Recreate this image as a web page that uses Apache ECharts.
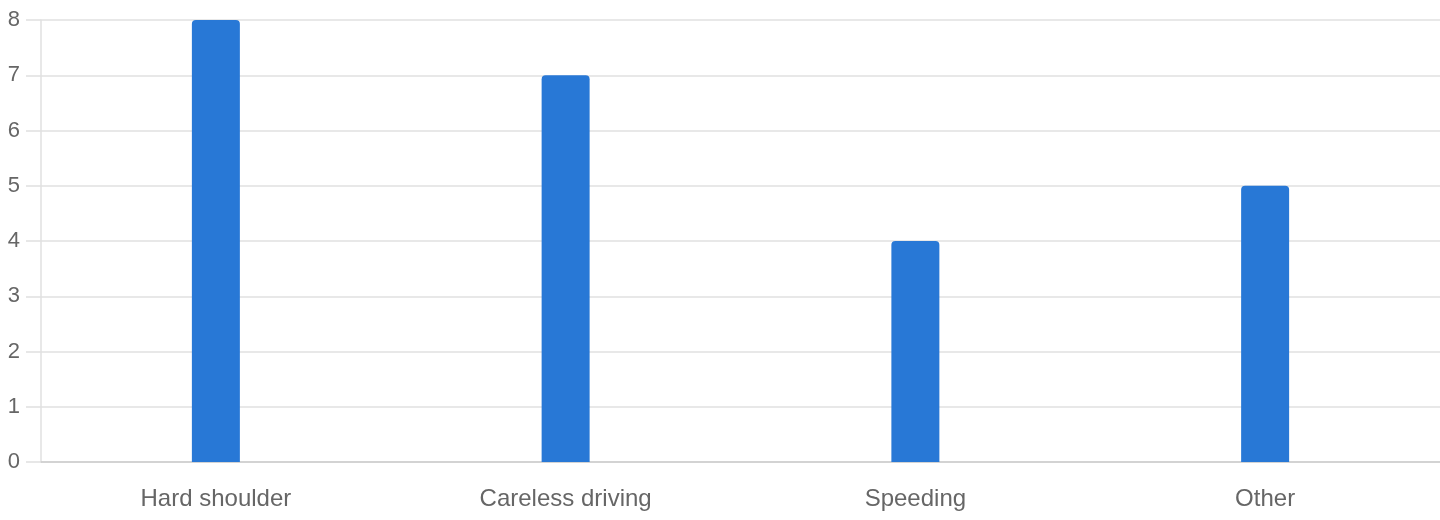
<!DOCTYPE html>
<html>
<head>
<meta charset="utf-8">
<script src="https://cdn.jsdelivr.net/npm/echarts@6/dist/echarts.min.js"></script>
<style>
  html, body { margin: 0; padding: 0; background: #fff; }
  #chart { width: 1440px; height: 520px; }
</style>
</head>
<body>
<div id="chart"></div>
<script>
// categories and values
var categories = ['Hard shoulder', 'Careless driving', 'Speeding', 'Other'];
var counts = [8, 7, 4, 5];

var myChart = echarts.init(document.getElementById('chart'));
myChart.setOption({
  animation: false,
  grid: { left: 41, right: 0, top: 20, bottom: 58 },
  xAxis: {
    type: 'category',
    data: categories,
    axisLine: { lineStyle: { color: '#cccccc', width: 1.5 } },
    axisTick: { show: false },
    axisLabel: { color: '#666', fontSize: 24, fontFamily: 'Helvetica, Arial, sans-serif', margin: 25 }
  },
  yAxis: {
    type: 'value',
    min: 0,
    max: 8,
    interval: 1,
    axisLine: { show: true, lineStyle: { color: '#e0e0e0', width: 1.5 } },
    axisTick: { show: true, inside: false, length: 15, lineStyle: { color: '#e0e0e0', width: 1.5 } },
    axisLabel: { color: '#666', fontSize: 22, fontFamily: 'Helvetica, Arial, sans-serif', margin: 21 },
    splitLine: { lineStyle: { color: '#e0e0e0', width: 1.5 } }
  },
  series: [{
    type: 'bar',
    data: counts,
    barWidth: 48,
    itemStyle: { color: '#2878d6', borderRadius: [4, 4, 0, 0] }
  }]
});
</script>
</body>
</html>
